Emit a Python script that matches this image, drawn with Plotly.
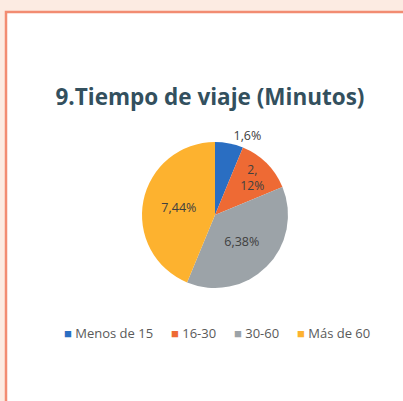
import plotly.graph_objects as go

categories = ["Menos de 15", "16-30", "30-60", "Más de 60"]
values = [1, 2, 6, 7]
percent_labels = ["6%", "12%", "38%", "44%"]
colors = ["#2A6EC2", "#EE6A34", "#9CA3A8", "#FDB22F"]

texts = [f"{v},{p}" for v, p in zip(values, percent_labels)]
texts[1] = f"{values[1]},<br>{percent_labels[1]}"

W, H = 403, 401
cx, cy, r = 215, 215, 73
FONT = "Open Sans"

fig = go.Figure()
fig.add_trace(go.Pie(
    labels=categories,
    values=values,
    text=texts,
    textinfo="text",
    textposition=["outside", "inside", "inside", "inside"],
    insidetextorientation="horizontal",
    sort=False,
    direction="clockwise",
    rotation=0,
    marker=dict(colors=colors, line=dict(width=0)),
    textfont=dict(family=FONT, size=12.5, color="#404040"),
    outsidetextfont=dict(family=FONT, size=12.5, color="#404040"),
    insidetextfont=dict(family=FONT, size=12.5, color="#404040"),
    domain=dict(x=[(cx - r) / W, (cx + r) / W], y=[(H - cy - r) / H, (H - cy + r) / H]),
    automargin=False,
    showlegend=False,
    hoverinfo="label+value+percent",
))

legend_x = [62, 169, 232, 295]
annotations = []
for cat, col, lx in zip(categories, colors, legend_x):
    annotations.append(dict(
        xref="paper", yref="paper", x=lx / W, y=1 - 333 / H,
        xanchor="left", yanchor="middle", showarrow=False,
        text=f"<span style='color:{col};font-size:13px'>■</span> {cat}",
        font=dict(family=FONT, size=13, color="#5A5A5A"),
    ))

fig.update_layout(
    width=W, height=H,
    margin=dict(l=0, r=0, t=0, b=0),
    paper_bgcolor="#FCEBE2",
    plot_bgcolor="#FCEBE2",
    title=dict(text="<b>9.Tiempo de viaje (Minutos)</b>", x=210 / W, xanchor="center",
               y=1 - 97 / H, yanchor="middle",
               font=dict(family=FONT, size=22.5, color="#33505E")),
    annotations=annotations,
    shapes=[dict(type="rect", xref="paper", yref="paper",
                 x0=6 / W, x1=1.05, y0=-0.05, y1=1 - 12 / H,
                 line=dict(color="#F28C72", width=2.5), fillcolor="#FFFFFF", layer="below")],
)

fig.write_html("out.html", config={"displayModeBar": False},
               post_script="document.body.style.margin='0';document.body.style.overflow='hidden';")
